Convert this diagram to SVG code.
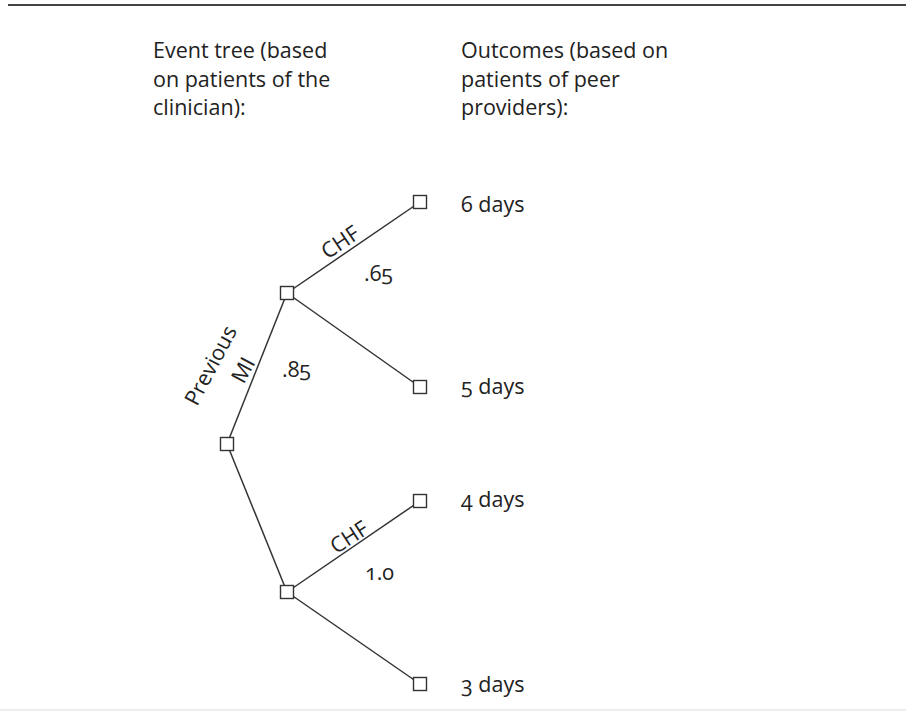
<svg xmlns="http://www.w3.org/2000/svg" width="906" height="713" viewBox="0 0 906 713">
<style>
text{font-family:"Open Sans","Noto Sans","DejaVu Sans",sans-serif;font-size:21.5px;fill:#222;font-variant-numeric:oldstyle-nums;font-feature-settings:"onum" 1}
.edge{stroke:#333;stroke-width:1.5;fill:none}
.box{fill:#fff;stroke:#333;stroke-width:1.4}
</style>
<rect width="906" height="713" fill="#fff"/>
<line x1="8" y1="5" x2="906" y2="5" stroke="#444" stroke-width="2"/>
<line x1="0" y1="710" x2="906" y2="710" stroke="#ddd" stroke-width="1"/>
<g id="header-left">
<text x="153" y="58">Event tree (based</text>
<text x="153" y="86.5">on patients of the</text>
<text x="153" y="115">clinician):</text>
</g>
<g id="header-right">
<text x="461" y="58">Outcomes (based on</text>
<text x="461" y="86.5">patients of peer</text>
<text x="461" y="115">providers):</text>
</g>
<g id="connectors">
<line class="edge" x1="227" y1="444" x2="287" y2="293"/>
<line class="edge" x1="227" y1="444" x2="287" y2="592"/>
<line class="edge" x1="287" y1="293" x2="420" y2="202"/>
<line class="edge" x1="287" y1="293" x2="420" y2="387"/>
<line class="edge" x1="287" y1="592" x2="420" y2="501"/>
<line class="edge" x1="287" y1="592" x2="420" y2="684"/>
<text transform="translate(212 366) rotate(-62)" text-anchor="middle" y="6">Previous</text>
<text transform="translate(243 370) rotate(-62)" text-anchor="middle" y="7.7">MI</text>
<text x="282" y="377">.85</text>
<text transform="translate(340 242) rotate(-34)" text-anchor="middle" y="7.7">CHF</text>
<text x="364" y="281">.65</text>
<text transform="translate(349 537) rotate(-33)" text-anchor="middle" y="7.7">CHF</text>
<text x="365" y="580">1.0</text>
</g>
<g id="root"><rect class="box" x="220.5" y="437.5" width="13" height="13"/></g>
<g id="mi"><rect class="box" x="280.5" y="286.5" width="13" height="13"/></g>
<g id="no-mi"><rect class="box" x="280.5" y="585.5" width="13" height="13"/></g>
<g id="leaf-6"><rect class="box" x="413.5" y="195.5" width="13" height="13"/><text x="461" y="212">6 days</text></g>
<g id="leaf-5"><rect class="box" x="413.5" y="380.5" width="13" height="13"/><text x="461" y="394">5 days</text></g>
<g id="leaf-4"><rect class="box" x="413.5" y="494.5" width="13" height="13"/><text x="461" y="507">4 days</text></g>
<g id="leaf-3"><rect class="box" x="413.5" y="677.5" width="13" height="13"/><text x="461" y="692">3 days</text></g>
</svg>
